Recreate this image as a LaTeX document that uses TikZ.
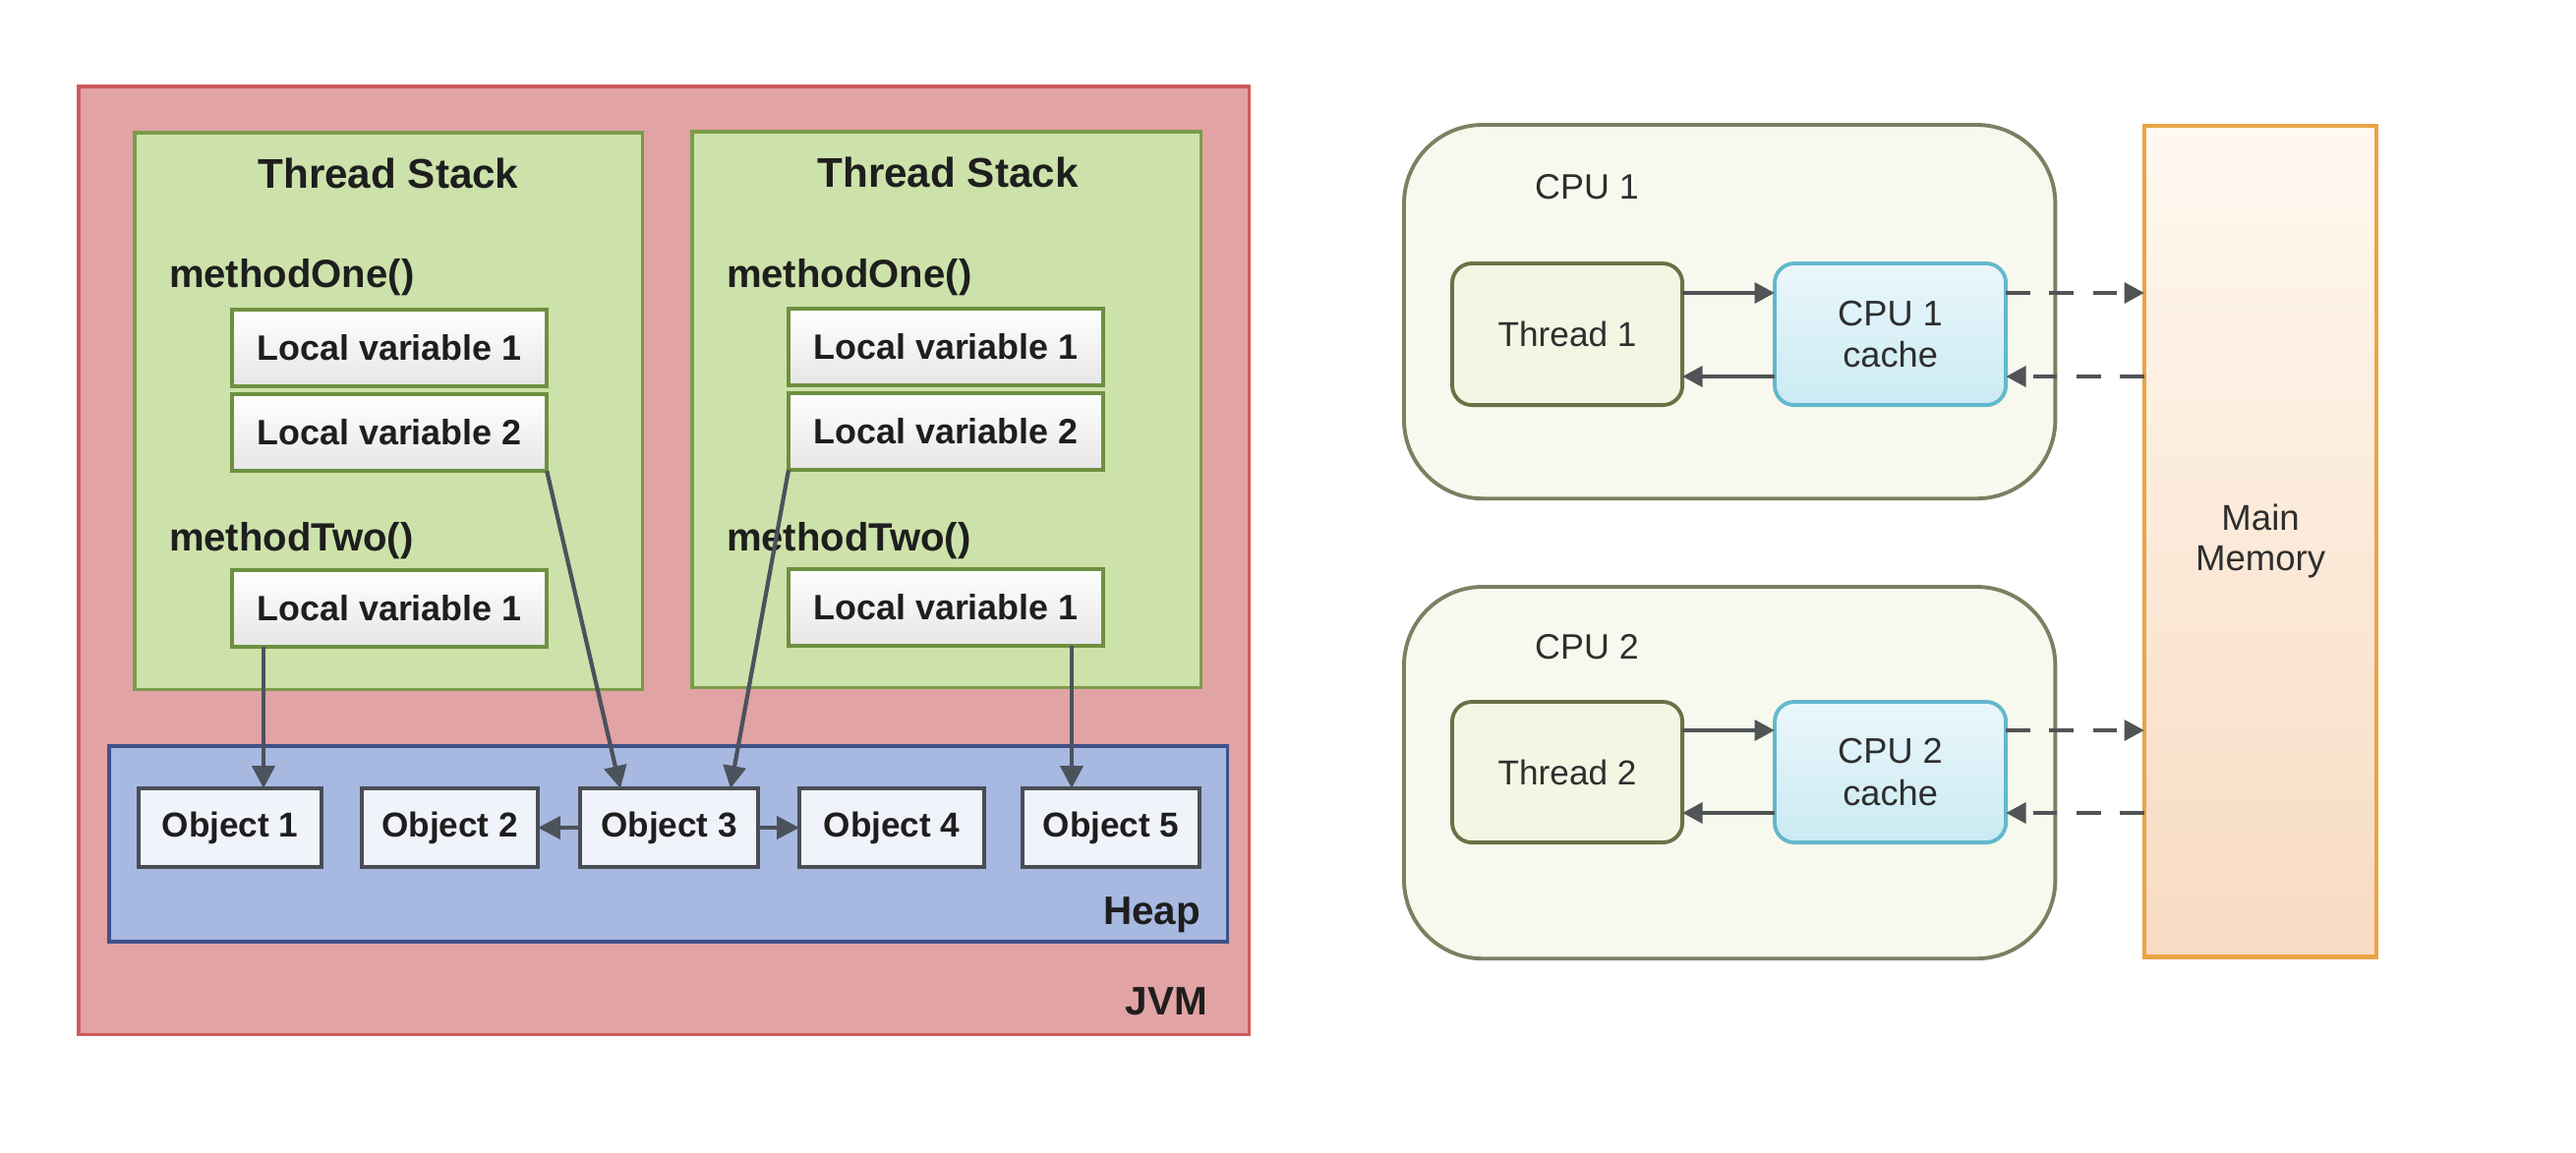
\documentclass[tikz,border=0pt]{standalone}
\usepackage{fontspec}
\setmainfont{Liberation Sans}
\usetikzlibrary{arrows.meta,calc}
\definecolor{jvmfill}{HTML}{E1A3A3}
\definecolor{jvmline}{HTML}{CF5A5A}
\definecolor{tsfill}{HTML}{CDE2AA}
\definecolor{tsline}{HTML}{7C9B4A}
\definecolor{lvline}{HTML}{6E9040}
\definecolor{lvbot}{HTML}{E6E6E6}
\definecolor{heapfill}{HTML}{A7B9E1}
\definecolor{heapline}{HTML}{3E5189}
\definecolor{objfill}{HTML}{F1F3FA}
\definecolor{objline}{HTML}{4A4D55}
\definecolor{arrcol}{HTML}{4C525C}
\definecolor{cpufill}{HTML}{F8F9EE}
\definecolor{cpuline}{HTML}{7B8062}
\definecolor{thrfill}{HTML}{F4F6E4}
\definecolor{thrline}{HTML}{6C7046}
\definecolor{cachetop}{HTML}{EAF7FB}
\definecolor{cachebot}{HTML}{CBEAF3}
\definecolor{cacheline}{HTML}{63B8CC}
\definecolor{memtop}{HTML}{FFF8F0}
\definecolor{membot}{HTML}{F8DBC2}
\definecolor{memline}{HTML}{EAA445}
\definecolor{rarr}{HTML}{505456}
\definecolor{txt}{HTML}{1E1E1E}
\definecolor{rtxt}{HTML}{2E2E2E}
\begin{document}
\begin{tikzpicture}[x=0.01cm,y=-0.01cm,
  every node/.style={inner sep=0pt, outer sep=0pt},
  jvmbox/.style={draw=jvmline, fill=jvmfill, line width=1pt, anchor=north west},
  stackbox/.style={draw=tsline, fill=tsfill, line width=1pt, anchor=north west},
  lvbox/.style={draw=lvline, top color=white, bottom color=lvbot, line width=1.2pt, anchor=north west,
    minimum width=3.2cm, minimum height=0.78cm, text=txt, font=\fontsize{10.2}{12}\selectfont\bfseries},
  heapbox/.style={draw=heapline, fill=heapfill, line width=1pt, anchor=north west},
  objbox/.style={draw=objline, fill=objfill, line width=1.2pt, anchor=north west,
    minimum height=0.8cm, text=txt, font=\fontsize{10}{12}\selectfont\bfseries},
  cpubox/.style={draw=cpuline, fill=cpufill, rounded corners=0.8cm, line width=1.1pt, anchor=north west,
    minimum width=6.62cm},
  thrbox/.style={draw=thrline, fill=thrfill, rounded corners=0.2cm, line width=1.1pt, anchor=north west,
    minimum width=2.34cm, minimum height=1.44cm, text=rtxt, font=\fontsize{10}{12}\selectfont},
  cachebox/.style={draw=cacheline, top color=cachetop, bottom color=cachebot, rounded corners=0.2cm,
    line width=1.1pt, anchor=north west, minimum width=2.35cm, minimum height=1.44cm, align=center,
    text=rtxt, font=\fontsize{10.3}{12}\selectfont},
  membox/.style={draw=memline, top color=memtop, bottom color=membot, line width=1.3pt, anchor=north west,
    minimum width=2.36cm, minimum height=8.45cm, align=center, text=rtxt, font=\fontsize{10.4}{11.7}\selectfont},
  tslabel/.style={anchor=base, text=txt, font=\fontsize{12}{14}\selectfont\bfseries},
  mlabel/.style={anchor=base west, text=txt, font=\fontsize{11.4}{13}\selectfont\bfseries},
  cornerlabel/.style={anchor=base east, text=txt, font=\fontsize{11.5}{13}\selectfont\bfseries},
  cpulabel/.style={anchor=base, text=rtxt, font=\fontsize{10.2}{12}\selectfont},
  arr/.style={draw=arrcol, line width=1.2pt, -{Triangle[length=6.5pt,width=6.5pt]}},
  rarrow/.style={draw=rarr, line width=1.4pt, -{Triangle[length=5.8pt,width=5.8pt]}},
  darrow/.style={rarrow, dash pattern=on 7pt off 5.6pt}
]
\useasboundingbox[fill=white] (0,0) rectangle (2620,1172);

% ---------------- JVM ----------------
\node[jvmbox, minimum width=11.9cm, minimum height=9.64cm] (jvm) at (80,88) {};
\node[cornerlabel] (jvmlbl) at (1228,1032) {JVM};

\node[stackbox, minimum width=5.16cm, minimum height=5.66cm] (ts1) at (137,135) {};
\node[stackbox, minimum width=5.17cm, minimum height=5.65cm] (ts2) at (704,134) {};
\node[tslabel] (ts1lbl) at (395,191) {Thread Stack};
\node[tslabel] (ts2lbl) at (964,190) {Thread Stack};

\node[mlabel] (m11) at (172,292) {methodOne()};
\node[mlabel] (m12) at (172,560) {methodTwo()};
\node[mlabel] (m21) at (739,292) {methodOne()};
\node[mlabel] (m22) at (739,560) {methodTwo()};

\node[lvbox] (lv11) at (236,315) {Local variable 1};
\node[lvbox] (lv12) at (236,401) {Local variable 2};
\node[lvbox] (lv13) at (236,580) {Local variable 1};
\node[lvbox] (lv21) at (802,314) {Local variable 1};
\node[lvbox] (lv22) at (802,400) {Local variable 2};
\node[lvbox] (lv23) at (802,579) {Local variable 1};

\node[heapbox, minimum width=11.37cm, minimum height=1.99cm] (heap) at (111,759) {};
\node[cornerlabel] (heaplbl) at (1221,940) {Heap};

\node[objbox, minimum width=1.86cm] (obj1) at (141,802) {Object 1};
\node[objbox, minimum width=1.79cm] (obj2) at (368,802) {Object 2};
\node[objbox, minimum width=1.81cm] (obj3) at (590,802) {Object 3};
\node[objbox, minimum width=1.88cm] (obj4) at (813,802) {Object 4};
\node[objbox, minimum width=1.80cm] (obj5) at (1040,802) {Object 5};

\coordinate (a1) at (268,0);
\coordinate (a2) at (631,0);
\coordinate (a3) at (743,0);
\coordinate (a4) at (1090,0);
\draw[arr] (lv13.south -| a1) -- (obj1.north -| a1);
\draw[arr] (lv12.south east) -- (obj3.north -| a2);
\draw[arr] (lv22.south west) -- (obj3.north -| a3);
\draw[arr] (lv23.south -| a4) -- (obj5.north -| a4);
\draw[arr] (obj3.west) -- (obj2.east);
\draw[arr] (obj3.east) -- (obj4.west);

% ---------------- CPUs ----------------
\node[cpubox, minimum height=3.8cm] (cpu1) at (1428,127) {};
\node[cpubox, minimum height=3.78cm] (cpu2) at (1428,597) {};
\node[cpulabel] (cpu1lbl) at (1614,202) {CPU 1};
\node[cpulabel] (cpu2lbl) at (1614,670) {CPU 2};

\node[thrbox] (thr1) at (1477,268) {Thread 1};
\node[cachebox] (cache1) at (1805,268) {CPU 1\\cache};
\node[thrbox, minimum height=1.43cm] (thr2) at (1477,714) {Thread 2};
\node[cachebox, minimum height=1.43cm] (cache2) at (1805,714) {CPU 2\\cache};

\node[membox] (mem) at (2181,128) {Main\\Memory};

\coordinate (r1) at (0,298);
\coordinate (r2) at (0,383);
\coordinate (r3) at (0,743);
\coordinate (r4) at (0,827);
\draw[rarrow] (thr1.east |- r1) -- (cache1.west |- r1);
\draw[rarrow] (cache1.west |- r2) -- (thr1.east |- r2);
\draw[darrow] (cache1.east |- r1) -- (mem.west |- r1);
\draw[darrow] (mem.west |- r2) -- (cache1.east |- r2);
\draw[rarrow] (thr2.east |- r3) -- (cache2.west |- r3);
\draw[rarrow] (cache2.west |- r4) -- (thr2.east |- r4);
\draw[darrow] (cache2.east |- r3) -- (mem.west |- r3);
\draw[darrow] (mem.west |- r4) -- (cache2.east |- r4);
\end{tikzpicture}
\end{document}
